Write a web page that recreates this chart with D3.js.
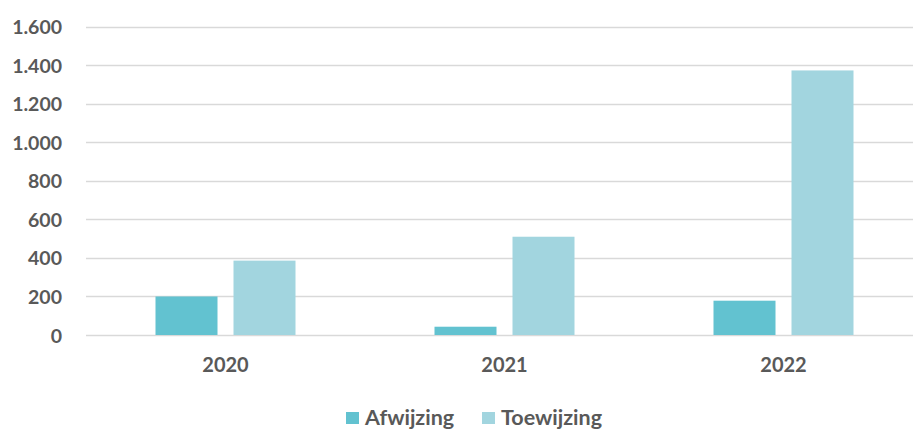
<!DOCTYPE html>
<html>
<head>
<meta charset="utf-8">
<script src="https://cdn.jsdelivr.net/npm/d3@7"></script>
<style>
  html, body { margin: 0; padding: 0; background: #fff; }
  svg { display: block; }
  text { font-family: Lato, "Open Sans", sans-serif; font-weight: 700; fill: #595959; }
</style>
</head>
<body>
<svg id="chart" width="913" height="430"></svg>
<script>
// Years on the category axis
const years = ["2020", "2021", "2022"];
// Series names and colours
const seriesNames = ["Afwijzing", "Toewijzing"];
const seriesColors = ["#62C2D0", "#A2D5DF"];
// Counts per year
const afwijzing = [200, 43, 178];
const toewijzing = [386, 510, 1373];
// Value axis ticks
const yTicks = [0, 200, 400, 600, 800, 1000, 1200, 1400, 1600];

const svg = d3.select("#chart");
const W = 913, H = 430;
const plot = { left: 86, right: 923, top: 26.7, bottom: 335 };

const fmt = d3.formatLocale({ decimal: ",", thousands: ".", grouping: [3], currency: ["€", ""] }).format(",d");

const x = d3.scaleBand().domain(years).range([plot.left, plot.right]).paddingInner(0).paddingOuter(0);
const y = d3.scaleLinear().domain([0, 1600]).range([plot.bottom, plot.top]);
const barW = 62, barGap = 16;
const xs = d3.scaleOrdinal().domain(seriesNames).range([-(barW + barGap / 2), barGap / 2]);

// gridlines
svg.append("g").selectAll("line").data(yTicks).join("line")
  .attr("x1", plot.left).attr("x2", W)
  .attr("y1", d => Math.round(y(d)) + 0.5).attr("y2", d => Math.round(y(d)) + 0.5)
  .attr("stroke", "#D9D9D9").attr("stroke-width", 1.3);

// y tick labels
const yAxis = d3.axisLeft(y).tickValues(yTicks).tickFormat(fmt).tickSize(0).tickPadding(0);
const gy = svg.append("g").attr("transform", "translate(62,0)").call(yAxis);
gy.select(".domain").remove();
gy.selectAll("text").attr("font-size", 19.5).attr("dy", "0.36em")
  .style("font-family", "Lato, sans-serif").style("font-weight", 700).attr("fill", "#595959");

// bars
const rows = years.map((yr, i) => ({ year: yr, values: [afwijzing[i], toewijzing[i]] }));
const groups = svg.append("g").selectAll("g").data(rows).join("g")
  .attr("transform", d => `translate(${x(d.year) + x.bandwidth() / 2},0)`);
groups.selectAll("rect").data(d => d.values.map((v, k) => ({ name: seriesNames[k], v, k })))
  .join("rect")
  .attr("x", d => xs(d.name))
  .attr("width", barW)
  .attr("y", d => y(d.v))
  .attr("height", d => y(0) - y(d.v))
  .attr("fill", d => seriesColors[d.k]);

// x axis labels
const xAxis = d3.axisBottom(x).tickSize(0).tickPadding(0);
const gx = svg.append("g").attr("transform", `translate(0,${plot.bottom + 37})`).call(xAxis);
gx.select(".domain").remove();
gx.selectAll("text").attr("font-size", 20).attr("dy", 0)
  .style("font-family", "Lato, sans-serif").style("font-weight", 700).attr("fill", "#595959");

// legend
const legendItems = [{ name: seriesNames[0], x: 346 }, { name: seriesNames[1], x: 482 }];
const lg = svg.append("g").selectAll("g").data(legendItems).join("g")
  .attr("transform", d => `translate(${d.x},0)`);
lg.append("rect").attr("x", 0).attr("y", 412).attr("width", 13).attr("height", 12)
  .attr("fill", (d, i) => seriesColors[i]);
lg.append("text").attr("x", 19).attr("y", 425).attr("font-size", 21.5).text(d => d.name);
</script>
</body>
</html>
